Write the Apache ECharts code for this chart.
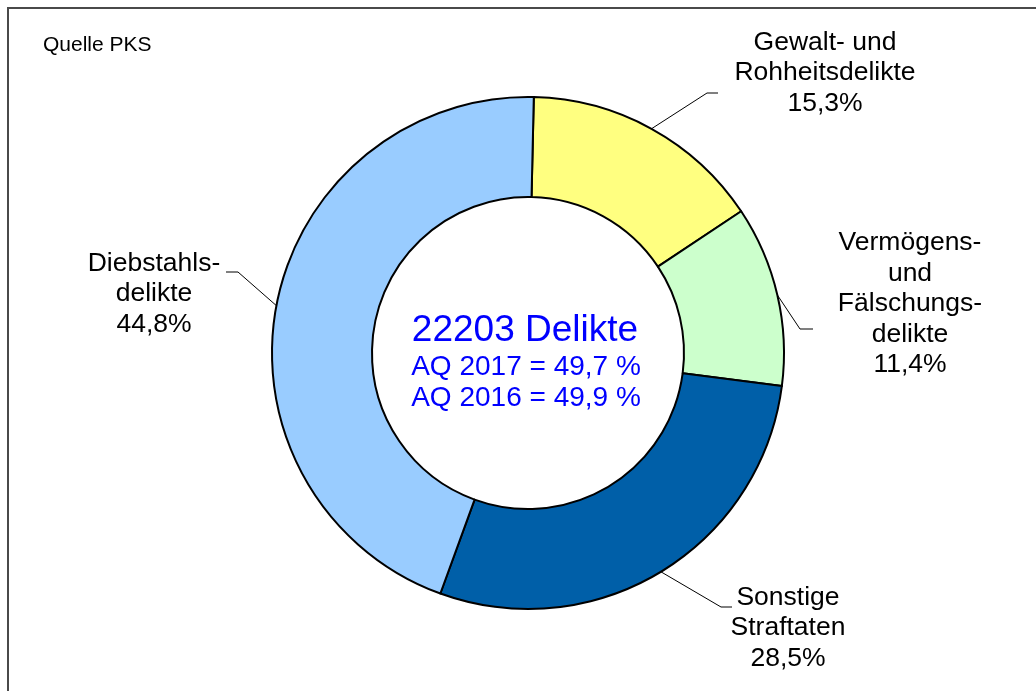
<!DOCTYPE html>
<html>
<head>
<meta charset="utf-8">
<script src="https://cdn.jsdelivr.net/npm/echarts@6/dist/echarts.min.js"></script>
<style>
html,body{margin:0;padding:0;background:#fff;}
#chart{width:1036px;height:691px;}
</style>
</head>
<body>
<div id="chart"></div>
<script>
// ---- data ----
var categories = ['Gewalt- und\nRohheitsdelikte', 'Vermögens-\nund\nFälschungs-\ndelikte', 'Sonstige\nStraftaten', 'Diebstahls-\ndelikte'];
var shares = [15.3, 11.4, 28.5, 44.8];
var shareLabels = ['15,3%', '11,4%', '28,5%', '44,8%'];
var totalCases = 22203;
var aqYears = ['2017', '2016'];
var aqValues = ['49,7', '49,9'];
var sourceText = 'Quelle PKS';

// ---- styles / layout ----
var colors = ['#FFFF80', '#CCFFCC', '#005FA8', '#99CCFF'];
var FONT = '"Liberation Sans", Arial, sans-serif';
// label anchor (center x, middle y) and leader-line bend/end points
var labelPos = [
  {x: 825, y: 73, bend: [707, 93], end: [718, 93]},
  {x: 910, y: 304, bend: [800, 329], end: [813, 329]},
  {x: 788, y: 628, bend: [721, 607], end: [732, 607]},
  {x: 154, y: 294, bend: [238, 272], end: [226, 272]}
];

var chart = echarts.init(document.getElementById('chart'), null, {renderer: 'canvas'});

var data = categories.map(function (c, i) {
  return {name: c, value: shares[i], itemStyle: {color: colors[i]}};
});

var option = {
  animation: false,
  backgroundColor: '#ffffff',
  graphic: [
    {type: 'rect', shape: {x: 8, y: 8, width: 1100, height: 800},
     style: {fill: 'none', stroke: '#4a4a4a', lineWidth: 2}, silent: true, z: 0},
    {type: 'text', x: 43, y: 45, style: {text: sourceText, font: '21px ' + FONT, fill: '#000',
      align: 'left', verticalAlign: 'middle'}, z: 10},
    {type: 'text', x: 525, y: 331, style: {text: totalCases + ' Delikte', font: '37px ' + FONT, fill: '#0000FF',
      align: 'center', verticalAlign: 'middle'}, z: 10},
    {type: 'text', x: 526, y: 367, style: {text: 'AQ ' + aqYears[0] + ' = ' + aqValues[0] + ' %', font: '28px ' + FONT, fill: '#0000FF',
      align: 'center', verticalAlign: 'middle'}, z: 10},
    {type: 'text', x: 526, y: 398, style: {text: 'AQ ' + aqYears[1] + ' = ' + aqValues[1] + ' %', font: '28px ' + FONT, fill: '#0000FF',
      align: 'center', verticalAlign: 'middle'}, z: 10}
  ],
  series: [{
    type: 'pie',
    center: [528, 353],
    radius: [156, 256],
    startAngle: 88.7,
    clockwise: true,
    avoidLabelOverlap: false,
    silent: true,
    emphasis: {disabled: true},
    itemStyle: {borderColor: '#000', borderWidth: 2},
    label: {
      show: true,
      position: 'outside',
      formatter: function (p) { return p.name + '\n' + shareLabels[p.dataIndex]; },
      fontFamily: FONT,
      fontSize: 26.5,
      lineHeight: 30.5,
      color: '#000',
      align: 'center'
    },
    labelLine: {show: true, length: 20, length2: 10, lineStyle: {color: '#000', width: 1}},
    labelLayout: function (params) {
      var lp = labelPos[params.dataIndex];
      var pts = params.labelLinePoints;
      var start = pts ? pts[0] : lp.bend;
      return {
        x: lp.x,
        y: lp.y,
        align: 'center',
        verticalAlign: 'middle',
        labelLinePoints: [start, lp.bend, lp.end]
      };
    },
    data: data
  }]
};
chart.setOption(option);
</script>
</body>
</html>
